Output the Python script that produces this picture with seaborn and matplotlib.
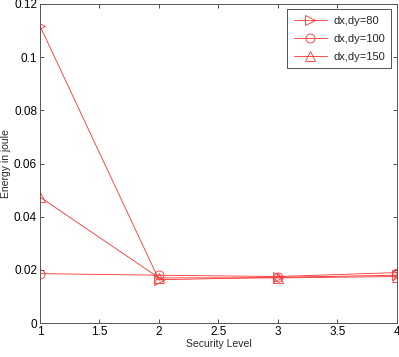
import matplotlib
matplotlib.use("Agg")
import matplotlib.pyplot as plt
import seaborn as sns
import pandas as pd

levels = [1, 2, 3, 4]
e_80 = [0.1118, 0.0163, 0.0172, 0.0180]
e_100 = [0.0186, 0.0180, 0.0175, 0.0190]
e_150 = [0.0474, 0.0170, 0.0170, 0.0175]
labels = ["dx,dy=80", "dx,dy=100", "dx,dy=150"]
markers = [">", "o", "^"]

sns.set_style("white")
plt.rcParams['font.family'] = ['Liberation Sans', 'DejaVu Sans']

df = pd.DataFrame({
    "Security Level": levels * 3,
    "Energy": e_80 + e_100 + e_150,
    "series": [labels[0]] * 4 + [labels[1]] * 4 + [labels[2]] * 4,
})

fig = plt.figure(figsize=(3.99, 3.57), dpi=100)
ax = fig.add_axes([0.1, 0.095, 0.895, 0.894])

for lab, mk in zip(labels, markers):
    sub = df[df.series == lab]
    sns.lineplot(data=sub, x="Security Level", y="Energy", ax=ax, color="#ff3030",
                 linewidth=0.6, marker=mk, markersize=6.5, markerfacecolor="none",
                 markeredgecolor="#ff3030", markeredgewidth=0.6, label=lab)

ax.set_xlim(1, 4)
ax.set_ylim(0, 0.12)
ax.set_xticks([1, 1.5, 2, 2.5, 3, 3.5, 4])
ax.set_xticklabels(["1", "1.5", "2", "2.5", "3", "3.5", "4"])
ax.set_yticks([0, 0.02, 0.04, 0.06, 0.08, 0.1, 0.12])
ax.set_yticklabels(["0", "0.02", "0.04", "0.06", "0.08", "0.1", "0.12"])
ax.tick_params(direction="in", length=3, width=0.6, labelsize=8.5, top=True, right=True,
               bottom=True, left=True, pad=2, colors="#333333", labelcolor="black")
for s in ax.spines.values():
    s.set_color("#555555")
    s.set_linewidth(0.7)
ax.set_xlabel("Security Level", fontsize=7.5, labelpad=1)
ax.set_ylabel("Energy in joule", fontsize=7.5, labelpad=2)

leg = ax.legend(loc="upper right", fontsize=8, frameon=True, fancybox=False,
                edgecolor="black", borderaxespad=0.5, handlelength=3.0,
                labelspacing=0.75, borderpad=0.55, handletextpad=0.6)
leg.get_frame().set_linewidth(0.6)

fig.savefig("out.png", dpi=100)
